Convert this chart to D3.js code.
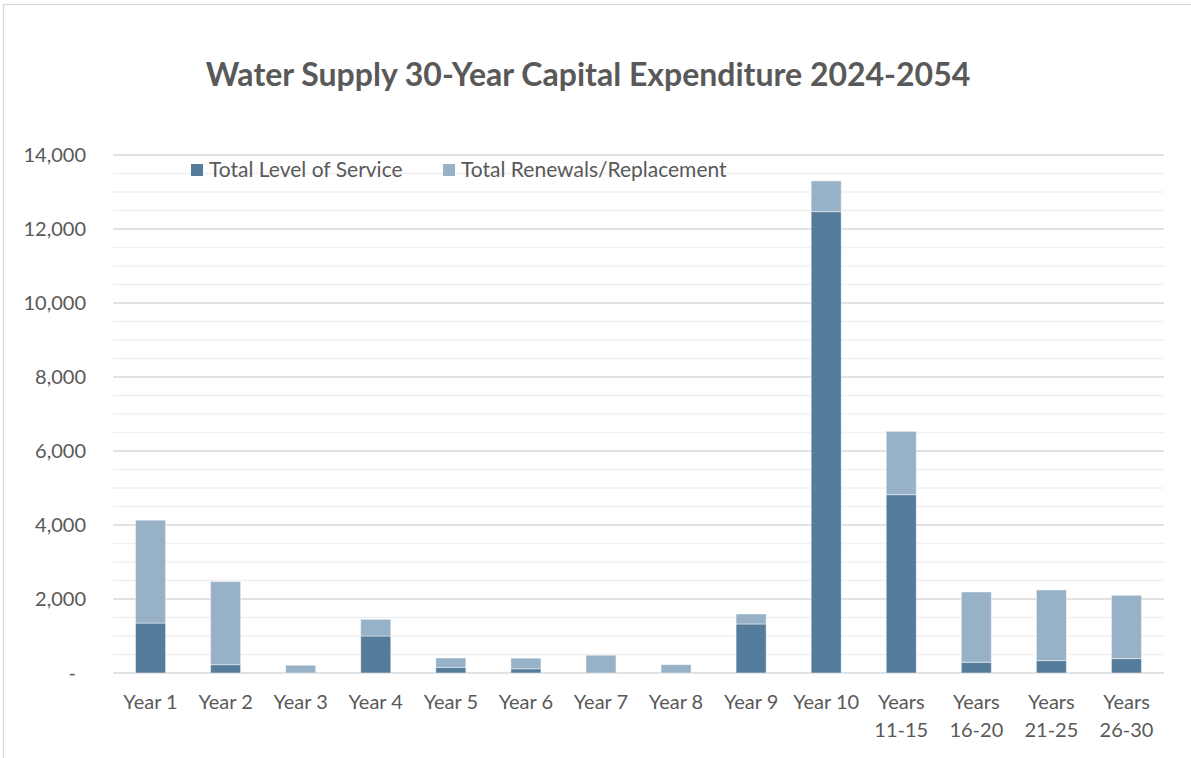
<!DOCTYPE html>
<html>
<head>
<meta charset="utf-8">
<script src="https://cdn.jsdelivr.net/npm/d3@7"></script>
<style>
  html, body { margin: 0; padding: 0; background: #fff; }
  svg { display: block; }
  text { font-family: Lato, "Open Sans", sans-serif; fill: #595959; }
</style>
</head>
<body>
<svg id="chart" width="1191" height="758"></svg>
<script>
// Categories along the x axis (multi-line labels split on "\n")
const categories = ["Year 1", "Year 2", "Year 3", "Year 4", "Year 5", "Year 6", "Year 7",
  "Year 8", "Year 9", "Year 10", "Years\n11-15", "Years\n16-20", "Years\n21-25", "Years\n26-30"];

// Capital expenditure per period
const levelOfService = [1350, 225, 0, 1000, 150, 115, 0, 0, 1325, 12470, 4820, 290, 335, 390];
const renewalsReplacement = [2780, 2245, 210, 450, 255, 285, 480, 225, 270, 830, 1710, 1900, 1910, 1710];

// Axis ticks
const yTicks = [0, 2000, 4000, 6000, 8000, 10000, 12000, 14000];
const yMinorStep = 500;

const seriesNames = ["Total Level of Service", "Total Renewals/Replacement"];
const seriesColors = ["#567C9C", "#97B1C7"];

const svg = d3.select("#chart");
const W = 1191, H = 758;
const margin = { left: 113, right: 27, top: 155, bottom: 85 };
const plotW = W - margin.left - margin.right;
const plotH = H - margin.top - margin.bottom;

// Chart-area frame
svg.append("rect")
  .attr("x", 3.5).attr("y", 4.5)
  .attr("width", 1300).attr("height", 900)
  .attr("fill", "#fff").attr("stroke", "#d9d9d9").attr("stroke-width", 1.3);

const x = d3.scaleBand().domain(categories).range([0, plotW]).paddingInner(0.6).paddingOuter(0.3);
const y = d3.scaleLinear().domain([0, 14000]).range([plotH, 0]);

const g = svg.append("g").attr("transform", `translate(${margin.left},${margin.top})`);

// Minor gridlines
const minorVals = d3.range(0, 14000 + 1, yMinorStep).filter(v => !yTicks.includes(v));
g.append("g").selectAll("line").data(minorVals).join("line")
  .attr("x1", 0).attr("x2", plotW)
  .attr("y1", d => y(d)).attr("y2", d => y(d))
  .attr("stroke", "#f0f0f0").attr("stroke-width", 1.3);

// Major gridlines
g.append("g").selectAll("line").data(yTicks).join("line")
  .attr("x1", 0).attr("x2", plotW)
  .attr("y1", d => y(d)).attr("y2", d => y(d))
  .attr("stroke", "#d9d9d9").attr("stroke-width", 1.3);

// Stacked bars
const rows = categories.map((c, i) => ({ cat: c, los: levelOfService[i], rr: renewalsReplacement[i] }));
const stack = d3.stack().keys(["los", "rr"])(rows);
g.append("g").selectAll("g").data(stack).join("g")
  .attr("fill", (d, i) => seriesColors[i])
  .selectAll("rect").data(d => d.filter(s => s[1] - s[0] > 0)).join("rect")
  .attr("x", d => x(d.data.cat))
  .attr("width", x.bandwidth())
  .attr("y", d => y(d[1]))
  .attr("height", d => y(d[0]) - y(d[1]))
  .attr("stroke", "rgba(255,255,255,0.45)").attr("stroke-width", 1);

// Y axis labels
const fmt = d3.format(",");
const yAxis = d3.axisLeft(y).tickValues(yTicks).tickSize(0).tickPadding(27)
  .tickFormat(d => d === 0 ? "-" : fmt(d));
const ya = g.append("g").call(yAxis);
ya.select(".domain").remove();
ya.selectAll("text").attr("font-size", 20).attr("font-family", "Lato, sans-serif").attr("fill", "#595959")
  .attr("dx", d => d === 0 ? -10 : 0);

// X axis labels
const xAxis = d3.axisBottom(x).tickSize(0).tickPadding(0).tickFormat("");
const xa = g.append("g").attr("transform", `translate(0,${plotH})`).call(xAxis);
xa.select(".domain").remove();
xa.selectAll(".tick").each(function(d) {
  const lines = d.split("\n");
  const t = d3.select(this).append("text")
    .attr("text-anchor", "middle").attr("font-size", 20).attr("fill", "#595959");
  lines.forEach((ln, i) => {
    t.append("tspan").attr("x", 0).attr("y", 36 + i * 27.5).text(ln);
  });
});

// Title
svg.append("text")
  .attr("x", 588).attr("y", 86)
  .attr("text-anchor", "middle")
  .attr("font-size", 32).attr("font-weight", 700)
  .attr("fill", "#595959")
  .text("Water Supply 30-Year Capital Expenditure 2024-2054");

// Legend
const legendPos = [191, 443];
const lg = svg.append("g");
seriesNames.forEach((name, i) => {
  lg.append("rect").attr("x", legendPos[i]).attr("y", 164).attr("width", 12).attr("height", 12)
    .attr("fill", seriesColors[i]);
  lg.append("text").attr("x", legendPos[i] + 18).attr("y", 177)
    .attr("font-size", 21).attr("fill", "#595959").text(name);
});
</script>
</body>
</html>
